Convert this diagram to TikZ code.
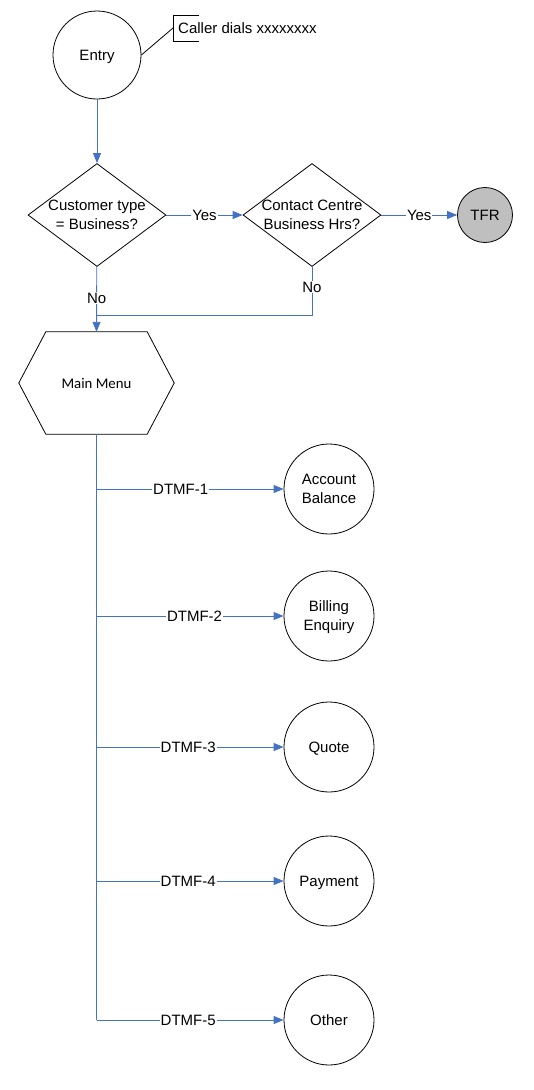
\documentclass[tikz,border=0pt]{standalone}
\usepackage{fontspec}
\setmainfont{Liberation Sans}
\newfontfamily\calibri{Carlito}
\usetikzlibrary{shapes.geometric,arrows.meta}
\definecolor{lblue}{RGB}{68,114,196}
\definecolor{tfrgray}{RGB}{191,191,191}
\begin{document}
\begin{tikzpicture}[x=1pt,y=-1pt,
  every node/.style={font=\fontsize{15}{19}\selectfont},
  conn/.style={draw=lblue, line width=0.9pt},
  arr/.style={conn, -{Triangle[length=10pt,width=8pt]}},
  circ/.style={circle, draw, line width=0.8pt, minimum size=90pt, inner sep=0pt, align=center, text depth=0pt},
  dia/.style={diamond, draw, line width=0.8pt, minimum width=138pt, minimum height=103pt, inner sep=0pt},
  lbl/.style={fill=white, inner sep=1pt}]
\useasboundingbox (0,0) rectangle (533,1090);

% entry and callout
\node[circ, minimum size=88pt] (entry) at (97,55) {Entry};
\node[anchor=west, inner sep=0pt] (callout) at (178,28) {Caller dials xxxxxxxx};
\coordinate (cb) at (173,28);
\draw[line width=0.8pt] (cb) ++(26,-13) -- ++(-26,0) -- ++(0,26) -- ++(26,0);
\draw[line width=0.8pt] (cb) -- (entry.east);

% decisions
\node[dia] (d1) at (97,215) {};
\node[align=center, inner sep=0pt, text depth=0pt] (t1) at (d1) {Customer type\\= Business?};
\node[dia] (d2) at (312,215) {};
\node[align=center, inner sep=0pt, text depth=0pt] (t2) at (d2) {Contact Centre\\Business Hrs?};
\node[circle, draw, line width=0.8pt, fill=tfrgray, minimum size=55pt, inner sep=0pt, text depth=0pt] (tfr) at (485,215) {TFR};

% main menu hexagon
\node[minimum width=155pt, minimum height=102pt, inner sep=0pt] (mm) at (96.5,383) {\calibri\fontsize{14.8}{17}\selectfont Main Menu};
\draw[line width=0.8pt] (mm.west) -- ([xshift=27pt]mm.north west) -- ([xshift=-27pt]mm.north east) -- (mm.east) -- ([xshift=-27pt]mm.south east) -- ([xshift=27pt]mm.south west) -- cycle;

% options
\node[circ] (c1) at (329,489) {Account\\Balance};
\node[circ] (c2) at (329,616) {Billing\\Enquiry};
\node[circ] (c3) at (329,747) {Quote};
\node[circ] (c4) at (329,881) {Payment};
\node[circ] (c5) at (329,1020) {Other};

% connectors
\draw[arr] (entry) -- (d1);
\draw[arr] (d1) -- node[lbl]{Yes} (d2);
\draw[arr] (d2) -- node[lbl]{Yes} (tfr);
\draw[arr] (d1) -- node[lbl, pos=0.48]{No} (mm.north);
\coordinate (j) at (97,315);
\draw[conn] (d2.south) -- node[lbl, pos=0.42]{No} (d2.south |- j) -- (j);

\draw[conn] (mm.south) -- (mm.south |- c5);
\draw[arr] (mm.south |- c1) -- node[lbl, pos=0.45]{DTMF-1} (c1);
\draw[arr] (mm.south |- c2) -- node[lbl, pos=0.524]{DTMF-2} (c2);
\draw[arr] (mm.south |- c3) -- node[lbl, pos=0.49]{DTMF-3} (c3);
\draw[arr] (mm.south |- c4) -- node[lbl, pos=0.49]{DTMF-4} (c4);
\draw[arr] (mm.south |- c5) -- node[lbl, pos=0.49]{DTMF-5} (c5);
\end{tikzpicture}
\end{document}
